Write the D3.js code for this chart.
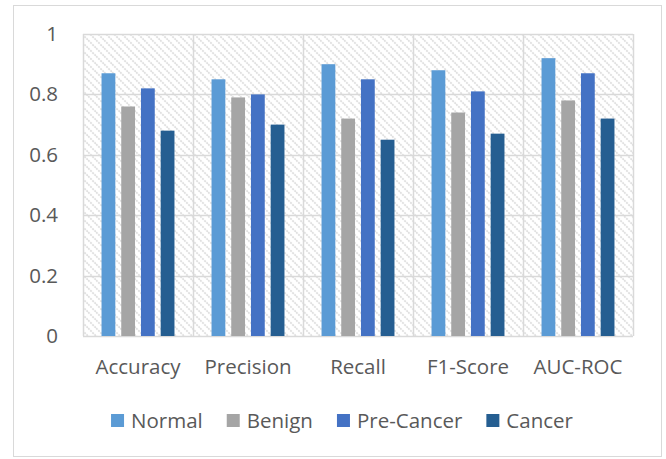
<!DOCTYPE html>
<html>
<head>
<meta charset="utf-8">
<script src="https://cdn.jsdelivr.net/npm/d3@7"></script>
<style>
  html, body { margin: 0; padding: 0; background: #fff; }
  svg { display: block; }
  text { font-family: "Open Sans", "Noto Sans", sans-serif; fill: #595959; }
</style>
</head>
<body>
<svg id="chart" width="666" height="459"></svg>
<script>
// Metrics shown along the x axis
const metrics = ["Accuracy", "Precision", "Recall", "F1-Score", "AUC-ROC"];
// Classes (one bar each per metric)
const classes = ["Normal", "Benign", "Pre-Cancer", "Cancer"];
// Scores per class, in metric order
const normal    = [0.87, 0.85, 0.90, 0.88, 0.92];
const benign    = [0.76, 0.79, 0.72, 0.74, 0.78];
const preCancer = [0.82, 0.80, 0.85, 0.81, 0.87];
const cancer    = [0.68, 0.70, 0.65, 0.67, 0.72];
// Value axis ticks
const yTicks = [0, 0.2, 0.4, 0.6, 0.8, 1];

const seriesValues = [normal, benign, preCancer, cancer];
const colors = ["#5B9BD5", "#A5A5A5", "#4472C4", "#255E91"];
const fontSize = 20.5;

const svg = d3.select("#chart");
const plot = { left: 83, right: 633, top: 34, bottom: 336 };

// Outer frame
svg.append("rect")
  .attr("x", 13.5).attr("y", 5.5)
  .attr("width", 648).attr("height", 451)
  .attr("fill", "#fff").attr("stroke", "#D9D9D9").attr("stroke-width", 1);

// Diagonal hatch for plot background
const defs = svg.append("defs");
const pat = defs.append("pattern")
  .attr("id", "hatch")
  .attr("patternUnits", "userSpaceOnUse")
  .attr("width", 8).attr("height", 8);
pat.append("rect").attr("width", 8).attr("height", 8).attr("fill", "#fff");
pat.append("path")
  .attr("d", "M-2,-2 L10,10 M-2,6 L2,10 M6,-2 L10,2")
  .attr("stroke", "#E0E0E0").attr("stroke-width", 1.8)
  .attr("stroke-dasharray", "2,1");

const x0 = d3.scaleBand().domain(metrics).range([plot.left, plot.right]).padding(0);
const x1 = d3.scaleBand().domain(classes).range([0, x0.bandwidth()])
  .paddingInner(0.3).paddingOuter(0.94);
const y = d3.scaleLinear().domain([0, 1]).range([plot.bottom, plot.top]);

svg.append("rect")
  .attr("x", plot.left).attr("y", plot.top)
  .attr("width", plot.right - plot.left).attr("height", plot.bottom - plot.top)
  .attr("fill", "url(#hatch)");

// Horizontal gridlines
svg.append("g")
  .selectAll("line").data(yTicks).join("line")
  .attr("x1", plot.left).attr("x2", plot.right)
  .attr("y1", d => Math.round(y(d)) + 0.5).attr("y2", d => Math.round(y(d)) + 0.5)
  .attr("stroke", "#D9D9D9").attr("stroke-width", 1.5);

// Vertical category dividers
const dividers = metrics.map(m => x0(m)).concat([plot.right]);
svg.append("g")
  .selectAll("line").data(dividers).join("line")
  .attr("x1", d => Math.round(d) + 0.5).attr("x2", d => Math.round(d) + 0.5)
  .attr("y1", plot.top).attr("y2", plot.bottom)
  .attr("stroke", "#D9D9D9").attr("stroke-width", 1.5);

// Bars
const groups = svg.append("g").selectAll("g").data(metrics).join("g")
  .attr("transform", m => `translate(${x0(m)},0)`);
groups.selectAll("rect")
  .data((m, i) => classes.map((c, k) => ({ c, v: seriesValues[k][i], k })))
  .join("rect")
  .attr("x", d => x1(d.c))
  .attr("width", x1.bandwidth())
  .attr("y", d => y(d.v))
  .attr("height", d => y(0) - y(d.v))
  .attr("fill", d => colors[d.k]);

// Y axis labels
const yAxis = d3.axisLeft(y).tickValues(yTicks).tickSize(0).tickPadding(25)
  .tickFormat(d => d3.format("~g")(d));
const ya = svg.append("g").attr("transform", `translate(${plot.left},0)`).call(yAxis);
ya.select(".domain").remove();
ya.selectAll("text").attr("font-size", fontSize).attr("fill", "#595959")
  .style("font-family", "'Open Sans', sans-serif");

// X axis labels
const xAxis = d3.axisBottom(x0).tickSize(0).tickPadding(23);
const xa = svg.append("g").attr("transform", `translate(0,${plot.bottom})`).call(xAxis);
xa.select(".domain").remove();
xa.selectAll("text").attr("font-size", fontSize).attr("fill", "#595959")
  .style("font-family", "'Open Sans', sans-serif");

// Legend
const legend = svg.append("g");
const items = legend.selectAll("g").data(classes).join("g");
items.append("rect").attr("width", 13).attr("height", 13).attr("y", -7)
  .attr("fill", (d, i) => colors[i]);
items.append("text").attr("x", 20).attr("dy", "0.35em")
  .attr("font-size", fontSize).text(d => d);
let xpos = 0;
items.each(function () {
  const w = this.querySelector("text").getComputedTextLength();
  this.setAttribute("transform", `translate(${xpos},0)`);
  xpos += 20 + w + 24;
});
const total = xpos - 24;
legend.attr("transform", `translate(${342 - total / 2},421)`);
</script>
</body>
</html>
